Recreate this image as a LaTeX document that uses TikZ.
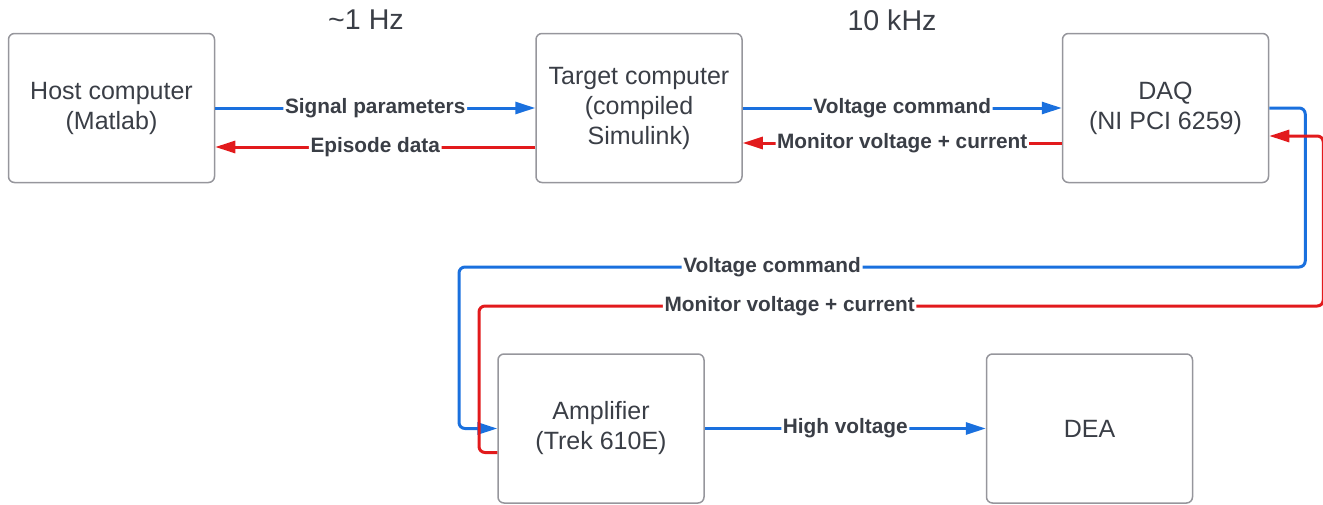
\documentclass[tikz,border=0pt]{standalone}
\usepackage{fontspec}
\setmainfont{Liberation Sans}
\usetikzlibrary{arrows.meta,positioning}
\definecolor{sigblue}{RGB}{26,112,222}
\definecolor{retred}{RGB}{226,26,28}
\definecolor{txtgray}{RGB}{58,62,70}
\definecolor{edgegray}{RGB}{150,150,156}

\begin{document}
\begin{tikzpicture}[x=0.5pt,y=-0.5pt,
  box/.style={draw=edgegray,line width=0.75pt,rounded corners=3pt,align=center,
    minimum width=103pt,minimum height=74.5pt,text=txtgray,
    font=\fontsize{12.5}{15}\selectfont},
  lab/.style={font=\fontsize{10.4}{12}\selectfont\bfseries,text=txtgray,fill=white,inner sep=0.8pt},
  freq/.style={font=\fontsize{14.3}{16}\selectfont,text=txtgray},
  sig/.style={draw=sigblue,line width=1.5pt,rounded corners=3pt,-{Triangle[length=10pt,width=6pt]}},
  ret/.style={draw=retred,line width=1.5pt,rounded corners=3pt,-{Triangle[length=10pt,width=6pt]}}]
\useasboundingbox (0,0) rectangle (1323,504);
\node[box] (host) at (111.5,108) {Host computer\\(Matlab)};
\node[box, right=160pt of host] (target) {Target computer\\(compiled\\Simulink)};
\node[box, right=159.5pt of target] (daq) {DAQ\\(NI PCI 6259)};
\node[box, below=85pt of target, xshift=-19pt] (amp) {Amplifier\\(Trek 610E)};
\node[box, right=140.5pt of amp] (dea) {DEA};
\node[freq] (slow) at (366,20) {\textasciitilde1 Hz};
\node[freq] (fast) at (892,20) {10 kHz};
\coordinate (cmd) at (459,267);
\coordinate (mon) at (479,306);
% host <-> target
\draw[sig] (host.east) -- node[lab]{Signal parameters} (target.west);
\draw[ret] ([yshift=-19.5pt]target.west) -- node[lab]{Episode data} ([yshift=-19.5pt]host.east);
% target <-> daq
\draw[sig] (target.east) -- node[lab]{Voltage command} (daq.west);
\draw[ret] ([yshift=-17.5pt]daq.west) -- node[lab]{Monitor voltage + current} ([yshift=-17.5pt]target.east);
% daq <-> amplifier
\draw[sig] (daq.east) -- ++(18pt,0) |- node[lab,pos=0.815]{Voltage command} (cmd) |- (amp.west);
\draw[ret] ([yshift=-12pt]amp.west) -| (mon) -| node[lab,pos=0.184]{Monitor voltage + current} ([xshift=27pt,yshift=-14pt]daq.east) -- ([yshift=-14pt]daq.east);
% amplifier -> dea
\draw[sig] (amp.east) -- node[lab]{High voltage} (dea.west);
\end{tikzpicture}
\end{document}
